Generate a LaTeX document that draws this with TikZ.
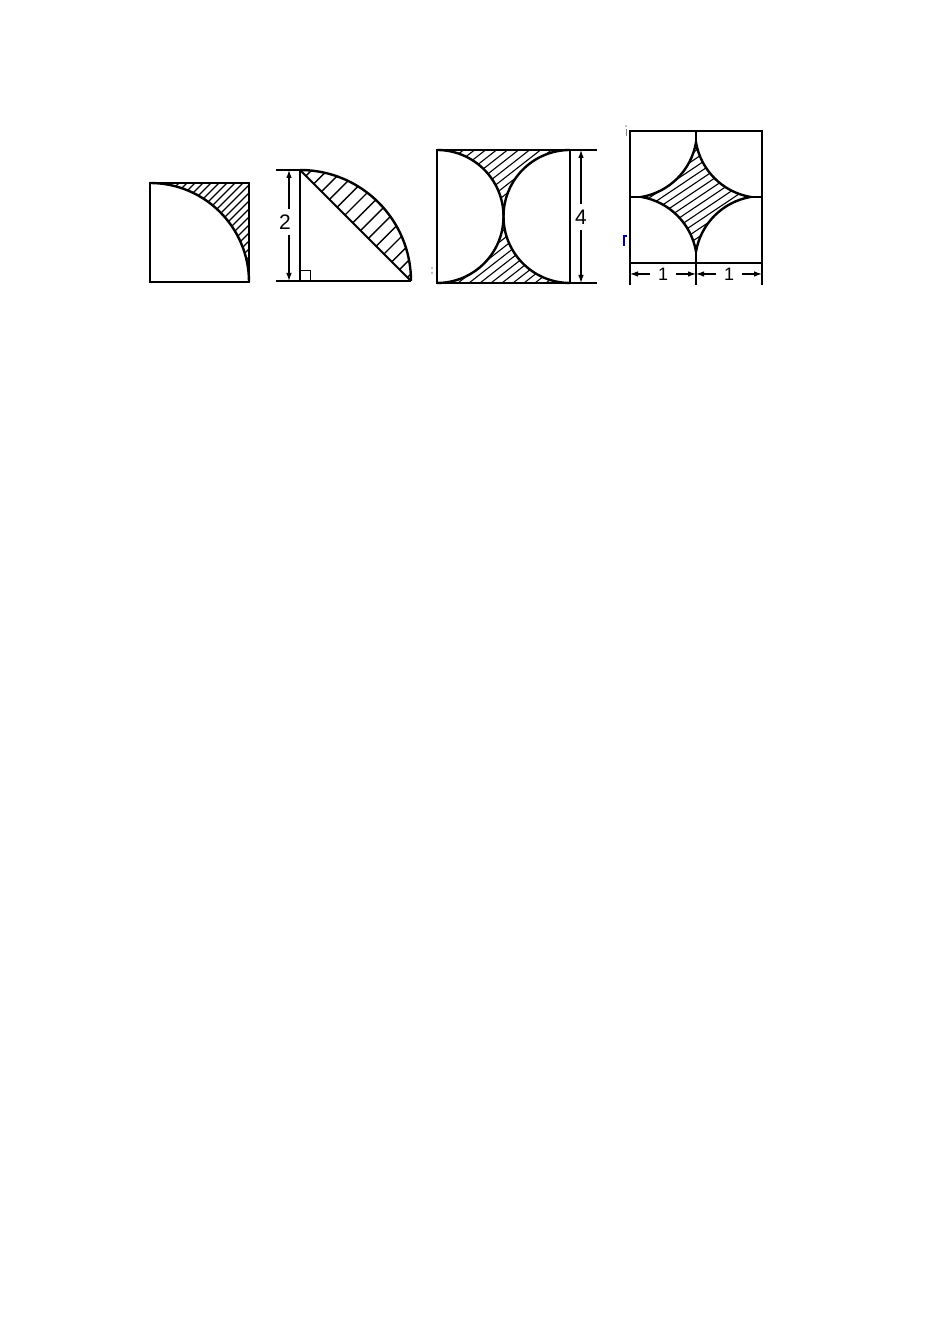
\documentclass[tikz,border=0pt]{standalone}
\usepackage{fontspec}
\setmainfont{Liberation Sans}
\usetikzlibrary{arrows.meta}
\begin{document}
\begin{tikzpicture}[x=0.5pt,y=0.5pt,
  edge/.style={line width=0.9pt},
  curve/.style={line width=1.2pt},
  hatch/.style={line width=0.55pt},
  dim/.style={line width=0.6pt,{Latex[length=4pt,width=2.8pt]}-{Latex[length=4pt,width=2.8pt]}},
  lab/.style={fill=white,inner xsep=1pt,inner ysep=3pt,font=\fontsize{10.5}{12}\selectfont},
  labh/.style={fill=white,inner xsep=4pt,inner ysep=1pt,font=\fontsize{9}{11}\selectfont}]
\useasboundingbox (0,0) rectangle (950,1344);

% ---------- Figure 1 ----------
\begin{scope}
  \clip (150,1161) arc[start angle=90,end angle=0,radius=99] -- (249,1161) -- cycle;
  \foreach \i in {40,48,...,270} \draw[hatch] (\i,1062) -- ++(130,130);
\end{scope}
\draw[edge] (150,1062) rectangle (249,1161);
\draw[curve] (150,1161) arc[start angle=90,end angle=0,radius=99];

% ---------- Figure 2 ----------
\begin{scope}
  \clip (300,1174) arc[start angle=90,end angle=0,radius=111] -- cycle;
  \foreach \t in {6,13.8,...,112} \draw[line width=0.7pt] (300+\t,1174-\t) -- ++(90,90);
\end{scope}
\draw[edge] (276,1174) -- (300,1174) -- (300,1063);
\draw[edge] (276,1063) -- (411,1063);
\draw[edge] (300,1174) -- (411,1063);
\draw[curve] (300,1174) arc[start angle=90,end angle=0,radius=111];
\draw[line width=0.5pt] (300,1073) -- (310,1073) -- (310,1063);
\draw[dim] (289,1174) -- (289,1063);
\node[lab] (two) at (285,1122) {2};

% ---------- Figure 3 ----------
\begin{scope}
  \clip (437,1194) -- (570,1194) arc[start angle=90,end angle=180,radius=66.5]
        arc[start angle=0,end angle=90,radius=66.5] -- cycle;
  \foreach \i in {260,271,...,580} \draw[hatch] (\i,1061) -- ++(200,156);
\end{scope}
\begin{scope}
  \clip (437,1061) -- (570,1061) arc[start angle=-90,end angle=-180,radius=66.5]
        arc[start angle=0,end angle=-90,radius=66.5] -- cycle;
  \foreach \i in {260,271,...,580} \draw[hatch] (\i,1061) -- ++(200,156);
\end{scope}
\draw[edge] (437,1061) rectangle (570,1194);
\draw[edge] (570,1194) -- (597,1194);
\draw[edge] (570,1061) -- (597,1061);
\draw[curve] (437,1194) arc[start angle=90,end angle=-90,radius=66.5];
\draw[curve] (570,1194) arc[start angle=90,end angle=270,radius=66.5];
\draw[dim] (581,1194) -- (581,1061);
\node[lab] (four) at (581,1127) {4};

% ---------- Figure 4 ----------
\draw[edge] (630,1081) rectangle (762,1213);
\draw[edge] (696,1213) -- (696,1059);
\draw[edge] (630,1147) -- (762,1147);
\draw[edge] (630,1081) -- (630,1059);
\draw[edge] (762,1081) -- (762,1059);
\fill[white] (696,1201.5) arc[start angle=-9.9,end angle=-80.1,radius=67]
      arc[start angle=80.1,end angle=9.9,radius=67]
      arc[start angle=170.1,end angle=99.9,radius=67]
      arc[start angle=-99.9,end angle=-170.1,radius=67] -- cycle;
\begin{scope}
  \clip (696,1201.5) arc[start angle=-9.9,end angle=-80.1,radius=67]
      arc[start angle=80.1,end angle=9.9,radius=67]
      arc[start angle=170.1,end angle=99.9,radius=67]
      arc[start angle=-99.9,end angle=-170.1,radius=67] -- cycle;
  \foreach \i in {420,432,...,770} \draw[hatch] (\i,1081) -- ++(300,201);
\end{scope}
\draw[curve] (696,1201.5) arc[start angle=-9.9,end angle=-80.1,radius=67]
      arc[start angle=80.1,end angle=9.9,radius=67]
      arc[start angle=170.1,end angle=99.9,radius=67]
      arc[start angle=-99.9,end angle=-170.1,radius=67] -- cycle;
\draw[dim] (630,1070) -- (696,1070);
\draw[dim] (696,1070) -- (762,1070);
\node[labh] (oneL) at (663,1070) {1};
\node[labh] (oneR) at (729,1070) {1};

% ---------- stray marks ----------
\draw[gray,line width=0.5pt] (626,1208) -- (626,1215);
\fill[gray] (626,1218) circle (0.8);
\draw[blue!60!black,line width=0.6pt] (624,1098) -- (624,1108) -- (627,1108);
\fill[gray] (432,1076) circle (0.8);
\fill[gray] (432,1071) circle (0.8);
\end{tikzpicture}
\end{document}
